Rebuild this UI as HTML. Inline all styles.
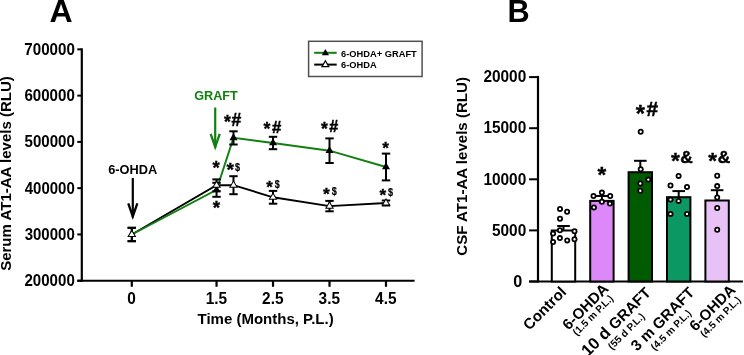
<!DOCTYPE html>
<html><head><meta charset="utf-8"><style>
html,body{margin:0;padding:0;background:#fff;}
svg{display:block;font-family:"Liberation Sans", sans-serif;will-change:transform;}
</style></head><body>
<svg width="744" height="355" viewBox="0 0 744 355">
<rect width="744" height="355" fill="#fff"/>
<line x1="81.80" y1="48.30" x2="81.80" y2="281.70" stroke="#000" stroke-width="2.2" stroke-linecap="butt"/>
<line x1="77.30" y1="280.70" x2="81.80" y2="280.70" stroke="#000" stroke-width="2" stroke-linecap="butt"/>
<text transform="translate(24.47,286.20) scale(1.0,1.06)" font-size="15.09" font-weight="bold" fill="#000" >200000</text>
<line x1="77.30" y1="234.43" x2="81.80" y2="234.43" stroke="#000" stroke-width="2" stroke-linecap="butt"/>
<text transform="translate(24.66,239.89) scale(1.0,1.06)" font-size="15.03" font-weight="bold" fill="#000" >300000</text>
<line x1="77.30" y1="188.16" x2="81.80" y2="188.16" stroke="#000" stroke-width="2" stroke-linecap="butt"/>
<text transform="translate(24.77,193.63) scale(1.0,1.06)" font-size="15.00" font-weight="bold" fill="#000" >400000</text>
<line x1="77.30" y1="141.89" x2="81.80" y2="141.89" stroke="#000" stroke-width="2" stroke-linecap="butt"/>
<text transform="translate(24.55,147.38) scale(1.0,1.06)" font-size="15.07" font-weight="bold" fill="#000" >500000</text>
<line x1="77.30" y1="95.62" x2="81.80" y2="95.62" stroke="#000" stroke-width="2" stroke-linecap="butt"/>
<text transform="translate(24.43,101.12) scale(1.0,1.06)" font-size="15.10" font-weight="bold" fill="#000" >600000</text>
<line x1="77.30" y1="49.35" x2="81.80" y2="49.35" stroke="#000" stroke-width="2" stroke-linecap="butt"/>
<text transform="translate(24.36,54.86) scale(1.0,1.06)" font-size="15.13" font-weight="bold" fill="#000" >700000</text>
<line x1="77.30" y1="280.70" x2="414.60" y2="280.70" stroke="#000" stroke-width="2" stroke-linecap="butt"/>
<line x1="131.80" y1="280.70" x2="131.80" y2="286.80" stroke="#000" stroke-width="2.2" stroke-linecap="butt"/>
<text transform="translate(131.60,303.70) scale(1,1.03)" font-size="15.40" font-weight="bold" fill="#000" text-anchor="middle" >0</text>
<line x1="216.54" y1="280.70" x2="216.54" y2="286.80" stroke="#000" stroke-width="2.2" stroke-linecap="butt"/>
<text transform="translate(216.34,303.70) scale(1,1.03)" font-size="15.40" font-weight="bold" fill="#000" text-anchor="middle" >1.5</text>
<line x1="273.02" y1="280.70" x2="273.02" y2="286.80" stroke="#000" stroke-width="2.2" stroke-linecap="butt"/>
<text transform="translate(272.82,303.70) scale(1,1.03)" font-size="15.40" font-weight="bold" fill="#000" text-anchor="middle" >2.5</text>
<line x1="329.51" y1="280.70" x2="329.51" y2="286.80" stroke="#000" stroke-width="2.2" stroke-linecap="butt"/>
<text transform="translate(329.31,303.70) scale(1,1.03)" font-size="15.40" font-weight="bold" fill="#000" text-anchor="middle" >3.5</text>
<line x1="386.00" y1="280.70" x2="386.00" y2="286.80" stroke="#000" stroke-width="2.2" stroke-linecap="butt"/>
<text transform="translate(385.81,303.70) scale(1,1.03)" font-size="15.40" font-weight="bold" fill="#000" text-anchor="middle" >4.5</text>
<text x="265.60" y="323.90" font-size="15.00" font-weight="bold" fill="#000" text-anchor="middle" >Time (Months, P.L.)</text>
<text transform="translate(11.2,173.5) rotate(-90)" x="0" y="0" font-size="15.03" font-weight="bold" text-anchor="middle">Serum AT1-AA levels (RLU)</text>
<text x="61.00" y="21.80" font-size="32.00" font-weight="bold" fill="#000" text-anchor="middle" >A</text>
<rect x="308.6" y="41.3" width="113.5" height="35.2" fill="none" stroke="#505050" stroke-width="1.5"/>
<line x1="314.20" y1="52.80" x2="336.70" y2="52.80" stroke="#118011" stroke-width="2" stroke-linecap="butt"/>
<path d="M325.4,48.9 L329,55.2 L321.8,55.2 Z" fill="#000"/>
<text x="341.10" y="56.80" font-size="9.30" font-weight="bold" fill="#000" text-anchor="start" >6-OHDA+ GRAFT</text>
<line x1="314.20" y1="64.60" x2="336.70" y2="64.60" stroke="#000" stroke-width="2" stroke-linecap="butt"/>
<path d="M325.4,60.8 L328.8,66.6 L322,66.6 Z" fill="#fff" stroke="#000" stroke-width="1.2"/>
<text x="341.10" y="68.30" font-size="9.30" font-weight="bold" fill="#000" text-anchor="start" >6-OHDA</text>
<polyline points="131.80,234.50 216.54,185.30 233.48,185.20 273.02,197.30 329.51,206.10 386.00,203.00" fill="none" stroke="#000" stroke-width="1.9"/>
<polyline points="131.80,234.50 216.54,189.80 233.48,137.90 273.02,143.00 329.51,150.70 386.00,167.00" fill="none" stroke="#118011" stroke-width="1.9"/>
<line x1="131.80" y1="227.80" x2="131.80" y2="241.20" stroke="#000" stroke-width="2" stroke-linecap="butt"/>
<line x1="127.60" y1="227.80" x2="136.00" y2="227.80" stroke="#000" stroke-width="2" stroke-linecap="butt"/>
<line x1="127.60" y1="241.20" x2="136.00" y2="241.20" stroke="#000" stroke-width="2" stroke-linecap="butt"/>
<line x1="216.54" y1="179.40" x2="216.54" y2="191.20" stroke="#000" stroke-width="2" stroke-linecap="butt"/>
<line x1="212.34" y1="179.40" x2="220.74" y2="179.40" stroke="#000" stroke-width="2" stroke-linecap="butt"/>
<line x1="212.34" y1="191.20" x2="220.74" y2="191.20" stroke="#000" stroke-width="2" stroke-linecap="butt"/>
<line x1="233.48" y1="176.20" x2="233.48" y2="194.20" stroke="#000" stroke-width="2" stroke-linecap="butt"/>
<line x1="229.28" y1="176.20" x2="237.68" y2="176.20" stroke="#000" stroke-width="2" stroke-linecap="butt"/>
<line x1="229.28" y1="194.20" x2="237.68" y2="194.20" stroke="#000" stroke-width="2" stroke-linecap="butt"/>
<line x1="273.02" y1="190.90" x2="273.02" y2="203.70" stroke="#000" stroke-width="2" stroke-linecap="butt"/>
<line x1="268.82" y1="190.90" x2="277.22" y2="190.90" stroke="#000" stroke-width="2" stroke-linecap="butt"/>
<line x1="268.82" y1="203.70" x2="277.22" y2="203.70" stroke="#000" stroke-width="2" stroke-linecap="butt"/>
<line x1="329.51" y1="200.90" x2="329.51" y2="211.30" stroke="#000" stroke-width="2" stroke-linecap="butt"/>
<line x1="325.31" y1="200.90" x2="333.71" y2="200.90" stroke="#000" stroke-width="2" stroke-linecap="butt"/>
<line x1="325.31" y1="211.30" x2="333.71" y2="211.30" stroke="#000" stroke-width="2" stroke-linecap="butt"/>
<line x1="386.00" y1="200.50" x2="386.00" y2="205.50" stroke="#000" stroke-width="2" stroke-linecap="butt"/>
<line x1="381.81" y1="200.50" x2="390.20" y2="200.50" stroke="#000" stroke-width="2" stroke-linecap="butt"/>
<line x1="381.81" y1="205.50" x2="390.20" y2="205.50" stroke="#000" stroke-width="2" stroke-linecap="butt"/>
<line x1="131.80" y1="227.80" x2="131.80" y2="241.20" stroke="#000" stroke-width="2" stroke-linecap="butt"/>
<line x1="127.60" y1="227.80" x2="136.00" y2="227.80" stroke="#000" stroke-width="2" stroke-linecap="butt"/>
<line x1="127.60" y1="241.20" x2="136.00" y2="241.20" stroke="#000" stroke-width="2" stroke-linecap="butt"/>
<line x1="216.54" y1="182.80" x2="216.54" y2="196.80" stroke="#000" stroke-width="2" stroke-linecap="butt"/>
<line x1="212.34" y1="182.80" x2="220.74" y2="182.80" stroke="#000" stroke-width="2" stroke-linecap="butt"/>
<line x1="212.34" y1="196.80" x2="220.74" y2="196.80" stroke="#000" stroke-width="2" stroke-linecap="butt"/>
<line x1="233.48" y1="131.30" x2="233.48" y2="144.50" stroke="#000" stroke-width="2" stroke-linecap="butt"/>
<line x1="229.28" y1="131.30" x2="237.68" y2="131.30" stroke="#000" stroke-width="2" stroke-linecap="butt"/>
<line x1="229.28" y1="144.50" x2="237.68" y2="144.50" stroke="#000" stroke-width="2" stroke-linecap="butt"/>
<line x1="273.02" y1="136.80" x2="273.02" y2="149.20" stroke="#000" stroke-width="2" stroke-linecap="butt"/>
<line x1="268.82" y1="136.80" x2="277.22" y2="136.80" stroke="#000" stroke-width="2" stroke-linecap="butt"/>
<line x1="268.82" y1="149.20" x2="277.22" y2="149.20" stroke="#000" stroke-width="2" stroke-linecap="butt"/>
<line x1="329.51" y1="138.40" x2="329.51" y2="163.00" stroke="#000" stroke-width="2" stroke-linecap="butt"/>
<line x1="325.31" y1="138.40" x2="333.71" y2="138.40" stroke="#000" stroke-width="2" stroke-linecap="butt"/>
<line x1="325.31" y1="163.00" x2="333.71" y2="163.00" stroke="#000" stroke-width="2" stroke-linecap="butt"/>
<line x1="386.00" y1="153.60" x2="386.00" y2="180.40" stroke="#000" stroke-width="2" stroke-linecap="butt"/>
<line x1="381.81" y1="153.60" x2="390.20" y2="153.60" stroke="#000" stroke-width="2" stroke-linecap="butt"/>
<line x1="381.81" y1="180.40" x2="390.20" y2="180.40" stroke="#000" stroke-width="2" stroke-linecap="butt"/>
<path d="M131.80,229.83 L135.80,236.83 L127.80,236.83 Z" fill="#000"/>
<path d="M216.54,185.13 L220.54,192.13 L212.54,192.13 Z" fill="#000"/>
<path d="M233.48,133.23 L237.48,140.23 L229.48,140.23 Z" fill="#000"/>
<path d="M273.02,138.33 L277.02,145.33 L269.02,145.33 Z" fill="#000"/>
<path d="M329.51,146.03 L333.51,153.03 L325.51,153.03 Z" fill="#000"/>
<path d="M386.00,162.33 L390.00,169.33 L382.00,169.33 Z" fill="#000"/>
<path d="M131.80,229.43 L136.30,237.03 L127.30,237.03 Z" fill="#000"/>
<path d="M131.80,231.40 L134.55,236.03 L129.05,236.03 Z" fill="#fff"/>
<path d="M216.54,180.23 L221.04,187.83 L212.04,187.83 Z" fill="#000"/>
<path d="M216.54,182.20 L219.28,186.83 L213.79,186.83 Z" fill="#fff"/>
<path d="M233.48,180.13 L237.98,187.73 L228.98,187.73 Z" fill="#000"/>
<path d="M233.48,182.10 L236.23,186.73 L230.74,186.73 Z" fill="#fff"/>
<path d="M273.02,192.23 L277.52,199.83 L268.52,199.83 Z" fill="#000"/>
<path d="M273.02,194.20 L275.77,198.83 L270.28,198.83 Z" fill="#fff"/>
<path d="M329.51,201.03 L334.01,208.63 L325.01,208.63 Z" fill="#000"/>
<path d="M329.51,203.00 L332.26,207.63 L326.77,207.63 Z" fill="#fff"/>
<path d="M386.00,197.93 L390.50,205.53 L381.50,205.53 Z" fill="#000"/>
<path d="M386.00,199.90 L388.75,204.53 L383.26,204.53 Z" fill="#fff"/>
<line x1="132.80" y1="178.00" x2="132.80" y2="217.50" stroke="#000" stroke-width="2.2" stroke-linecap="butt"/>
<polyline points="128.25,203.40 132.80,216.50 137.35,203.40" fill="none" stroke="#000" stroke-width="2.3" stroke-linejoin="miter" stroke-miterlimit="10"/>
<line x1="215.20" y1="107.50" x2="215.20" y2="147.90" stroke="#118011" stroke-width="2.2" stroke-linecap="butt"/>
<polyline points="210.65,133.80 215.20,146.90 219.75,133.80" fill="none" stroke="#118011" stroke-width="2.3" stroke-linejoin="miter" stroke-miterlimit="10"/>
<text x="108.22" y="173.70" font-size="12.81" font-weight="bold" fill="#000" >6-OHDA</text>
<text x="194.29" y="100.00" font-size="12.65" font-weight="bold" fill="#118011" >GRAFT</text>
<text x="212.62" y="173.63" font-size="18.61" font-weight="bold" fill="#000" stroke="#000" stroke-width="0.35">*</text>
<text x="212.72" y="213.81" font-size="18.86" font-weight="bold" fill="#000" stroke="#000" stroke-width="0.35">*</text>
<text x="224.03" y="128.39" font-size="17.54" font-weight="bold" fill="#000" stroke="#000" stroke-width="0.35">*</text>
<text x="231.57" y="125.80" font-size="17.50" font-weight="bold" fill="#000" stroke="#000" stroke-width="0.5">#</text>
<text x="226.49" y="176.41" font-size="19.28" font-weight="bold" fill="#000" stroke="#000" stroke-width="0.35">*</text>
<text transform="translate(234.93,171.21) scale(0.85,1.0)" font-size="10.68" font-weight="bold" fill="#000" stroke="#000" stroke-width="0.2">$</text>
<text x="263.55" y="135.46" font-size="17.67" font-weight="bold" fill="#000" stroke="#000" stroke-width="0.35">*</text>
<text x="271.97" y="132.50" font-size="16.62" font-weight="bold" fill="#000" stroke="#000" stroke-width="0.5">#</text>
<text x="266.31" y="192.96" font-size="16.88" font-weight="bold" fill="#000" stroke="#000" stroke-width="0.35">*</text>
<text transform="translate(274.63,187.74) scale(0.85,1.0)" font-size="10.46" font-weight="bold" fill="#000" stroke="#000" stroke-width="0.2">$</text>
<text x="321.03" y="135.39" font-size="17.54" font-weight="bold" fill="#000" stroke="#000" stroke-width="0.35">*</text>
<text x="329.13" y="131.90" font-size="16.03" font-weight="bold" fill="#000" stroke="#000" stroke-width="0.5">#</text>
<text x="323.06" y="200.28" font-size="17.41" font-weight="bold" fill="#000" stroke="#000" stroke-width="0.35">*</text>
<text transform="translate(331.73,194.91) scale(0.85,1.0)" font-size="10.68" font-weight="bold" fill="#000" stroke="#000" stroke-width="0.2">$</text>
<text x="382.16" y="153.80" font-size="17.15" font-weight="bold" fill="#000" stroke="#000" stroke-width="0.35">*</text>
<text x="379.46" y="201.09" font-size="17.14" font-weight="bold" fill="#000" stroke="#000" stroke-width="0.35">*</text>
<text transform="translate(388.08,195.91) scale(0.85,1.0)" font-size="10.68" font-weight="bold" fill="#000" stroke="#000" stroke-width="0.2">$</text>
<line x1="538.00" y1="75.90" x2="538.00" y2="282.50" stroke="#000" stroke-width="2.2" stroke-linecap="butt"/>
<line x1="529.10" y1="281.50" x2="538.00" y2="281.50" stroke="#000" stroke-width="2" stroke-linecap="butt"/>
<text x="513.21" y="286.97" font-size="16.19" font-weight="bold" fill="#000" >0</text>
<line x1="529.10" y1="230.40" x2="538.00" y2="230.40" stroke="#000" stroke-width="2" stroke-linecap="butt"/>
<text transform="translate(491.99,235.61) scale(1.0,1.04)" font-size="15.40" font-weight="bold" fill="#000" >5000</text>
<line x1="529.10" y1="179.30" x2="538.00" y2="179.30" stroke="#000" stroke-width="2" stroke-linecap="butt"/>
<text transform="translate(483.40,184.51) scale(1.0,1.04)" font-size="15.40" font-weight="bold" fill="#000" >10000</text>
<line x1="529.10" y1="128.20" x2="538.00" y2="128.20" stroke="#000" stroke-width="2" stroke-linecap="butt"/>
<text transform="translate(483.40,133.41) scale(1.0,1.04)" font-size="15.40" font-weight="bold" fill="#000" >15000</text>
<line x1="529.10" y1="77.10" x2="538.00" y2="77.10" stroke="#000" stroke-width="2" stroke-linecap="butt"/>
<text transform="translate(483.40,82.31) scale(1.0,1.04)" font-size="15.40" font-weight="bold" fill="#000" >20000</text>
<line x1="529.10" y1="281.50" x2="742.90" y2="281.50" stroke="#000" stroke-width="2.2" stroke-linecap="butt"/>
<text x="507.57" y="21.60" font-size="30.69" font-weight="bold" fill="#000" >B</text>
<text transform="translate(467.2,166.4) rotate(-90)" x="0" y="0" font-size="15.09" font-weight="bold" text-anchor="middle">CSF AT1-AA levels (RLU)</text>
<rect x="551.80" y="230.50" width="23.40" height="51.00" fill="#fff" stroke="#000" stroke-width="2"/>
<line x1="563.50" y1="226.00" x2="563.50" y2="230.50" stroke="#000" stroke-width="2" stroke-linecap="butt"/>
<line x1="557.20" y1="226.00" x2="569.80" y2="226.00" stroke="#000" stroke-width="2" stroke-linecap="butt"/>
<rect x="590.20" y="200.90" width="23.40" height="80.60" fill="#dc88f8" stroke="#000" stroke-width="2"/>
<line x1="601.90" y1="196.00" x2="601.90" y2="200.90" stroke="#000" stroke-width="2" stroke-linecap="butt"/>
<line x1="595.60" y1="196.00" x2="608.20" y2="196.00" stroke="#000" stroke-width="2" stroke-linecap="butt"/>
<rect x="628.60" y="172.20" width="23.40" height="109.30" fill="#005a00" stroke="#000" stroke-width="2"/>
<line x1="640.30" y1="160.80" x2="640.30" y2="172.20" stroke="#000" stroke-width="2" stroke-linecap="butt"/>
<line x1="634.00" y1="160.80" x2="646.60" y2="160.80" stroke="#000" stroke-width="2" stroke-linecap="butt"/>
<rect x="667.00" y="197.20" width="23.40" height="84.30" fill="#0c9862" stroke="#000" stroke-width="2"/>
<line x1="678.70" y1="191.10" x2="678.70" y2="197.20" stroke="#000" stroke-width="2" stroke-linecap="butt"/>
<line x1="672.40" y1="191.10" x2="685.00" y2="191.10" stroke="#000" stroke-width="2" stroke-linecap="butt"/>
<rect x="705.40" y="200.50" width="23.40" height="81.00" fill="#e8c2f6" stroke="#000" stroke-width="2"/>
<line x1="717.10" y1="190.20" x2="717.10" y2="200.50" stroke="#000" stroke-width="2" stroke-linecap="butt"/>
<line x1="710.80" y1="190.20" x2="723.40" y2="190.20" stroke="#000" stroke-width="2" stroke-linecap="butt"/>
<circle cx="560.00" cy="208.90" r="2.1" fill="#fff" stroke="#000" stroke-width="1.8"/>
<circle cx="567.10" cy="211.70" r="2.1" fill="#fff" stroke="#000" stroke-width="1.8"/>
<circle cx="560.00" cy="218.70" r="2.1" fill="#fff" stroke="#000" stroke-width="1.8"/>
<circle cx="559.90" cy="230.20" r="2.1" fill="#fff" stroke="#000" stroke-width="1.8"/>
<circle cx="574.50" cy="231.30" r="2.1" fill="#fff" stroke="#000" stroke-width="1.8"/>
<circle cx="553.10" cy="233.60" r="2.1" fill="#fff" stroke="#000" stroke-width="1.8"/>
<circle cx="559.90" cy="238.10" r="2.1" fill="#fff" stroke="#000" stroke-width="1.8"/>
<circle cx="567.20" cy="240.40" r="2.1" fill="#fff" stroke="#000" stroke-width="1.8"/>
<circle cx="574.50" cy="239.20" r="2.1" fill="#fff" stroke="#000" stroke-width="1.8"/>
<circle cx="553.10" cy="242.00" r="2.1" fill="#fff" stroke="#000" stroke-width="1.8"/>
<circle cx="601.90" cy="192.60" r="2.1" fill="#fff" stroke="#000" stroke-width="1.8"/>
<circle cx="593.50" cy="196.00" r="2.1" fill="#fff" stroke="#000" stroke-width="1.8"/>
<circle cx="610.20" cy="196.00" r="2.1" fill="#fff" stroke="#000" stroke-width="1.8"/>
<circle cx="601.90" cy="201.70" r="2.1" fill="#fff" stroke="#000" stroke-width="1.8"/>
<circle cx="609.90" cy="203.60" r="2.1" fill="#fff" stroke="#000" stroke-width="1.8"/>
<circle cx="593.90" cy="207.40" r="2.1" fill="#fff" stroke="#000" stroke-width="1.8"/>
<circle cx="640.70" cy="131.70" r="2.1" fill="#fff" stroke="#000" stroke-width="1.8"/>
<circle cx="640.70" cy="169.30" r="2.1" fill="#fff" stroke="#000" stroke-width="1.8"/>
<circle cx="648.30" cy="179.60" r="2.1" fill="#fff" stroke="#000" stroke-width="1.8"/>
<circle cx="640.30" cy="183.50" r="2.1" fill="#fff" stroke="#000" stroke-width="1.8"/>
<circle cx="640.30" cy="190.80" r="2.1" fill="#fff" stroke="#000" stroke-width="1.8"/>
<circle cx="678.60" cy="175.90" r="2.1" fill="#fff" stroke="#000" stroke-width="1.8"/>
<circle cx="670.50" cy="185.50" r="2.1" fill="#fff" stroke="#000" stroke-width="1.8"/>
<circle cx="687.00" cy="186.90" r="2.1" fill="#fff" stroke="#000" stroke-width="1.8"/>
<circle cx="670.50" cy="199.60" r="2.1" fill="#fff" stroke="#000" stroke-width="1.8"/>
<circle cx="678.60" cy="200.90" r="2.1" fill="#fff" stroke="#000" stroke-width="1.8"/>
<circle cx="670.50" cy="213.90" r="2.1" fill="#fff" stroke="#000" stroke-width="1.8"/>
<circle cx="687.00" cy="213.90" r="2.1" fill="#fff" stroke="#000" stroke-width="1.8"/>
<circle cx="717.20" cy="175.80" r="2.1" fill="#fff" stroke="#000" stroke-width="1.8"/>
<circle cx="717.20" cy="186.10" r="2.1" fill="#fff" stroke="#000" stroke-width="1.8"/>
<circle cx="717.20" cy="197.50" r="2.1" fill="#fff" stroke="#000" stroke-width="1.8"/>
<circle cx="717.20" cy="208.00" r="2.1" fill="#fff" stroke="#000" stroke-width="1.8"/>
<circle cx="717.20" cy="229.70" r="2.1" fill="#fff" stroke="#000" stroke-width="1.8"/>
<text x="597.60" y="182.48" font-size="22.31" font-weight="bold" fill="#000" stroke="#000" stroke-width="0.35">*</text>
<text x="635.69" y="121.79" font-size="23.62" font-weight="bold" fill="#000" stroke="#000" stroke-width="0.35">*</text>
<text x="646.62" y="116.40" font-size="20.74" font-weight="bold" fill="#000" stroke="#000" stroke-width="0.5">#</text>
<text x="671.12" y="167.83" font-size="22.71" font-weight="bold" fill="#000" stroke="#000" stroke-width="0.35">*</text>
<text x="680.15" y="162.61" font-size="17.33" font-weight="bold" fill="#000" stroke="#000" stroke-width="0.45">&amp;</text>
<text x="708.37" y="167.70" font-size="22.45" font-weight="bold" fill="#000" stroke="#000" stroke-width="0.35">*</text>
<text x="717.85" y="162.61" font-size="17.33" font-weight="bold" fill="#000" stroke="#000" stroke-width="0.45">&amp;</text>
<text transform="translate(567.30,292.90) rotate(-45)" x="0" y="0" font-size="15.15" font-weight="bold" text-anchor="end">Control</text>
<text transform="translate(609.50,289.80) rotate(-45)" x="0" y="0" font-size="15.15" font-weight="bold" text-anchor="end">6-OHDA</text>
<text transform="translate(614.00,299.00) rotate(-45)" x="0" y="0" font-size="10.1" font-weight="bold" text-anchor="end">(1.5 m P.L.)</text>
<text transform="translate(651.7,293.7) rotate(-45)" x="0" y="0" font-weight="bold" text-anchor="end"><tspan font-size="16.6">10 d </tspan><tspan font-size="15.15">GRAFT</tspan></text>
<text transform="translate(645.30,317.00) rotate(-45)" x="0" y="0" font-size="10.1" font-weight="bold" text-anchor="end">(55 d P.L.)</text>
<text transform="translate(695.30,293.50) rotate(-45)" x="0" y="0" font-size="15.15" font-weight="bold" text-anchor="end">3 m GRAFT</text>
<text transform="translate(692.00,313.80) rotate(-45)" x="0" y="0" font-size="10.1" font-weight="bold" text-anchor="end">(4.5 m P.L.)</text>
<text transform="translate(736.50,290.90) rotate(-45)" x="0" y="0" font-size="15.15" font-weight="bold" text-anchor="end">6-OHDA</text>
<text transform="translate(741.50,300.60) rotate(-45)" x="0" y="0" font-size="10.1" font-weight="bold" text-anchor="end">(4.5 m P.L.)</text>
</svg></body></html>
